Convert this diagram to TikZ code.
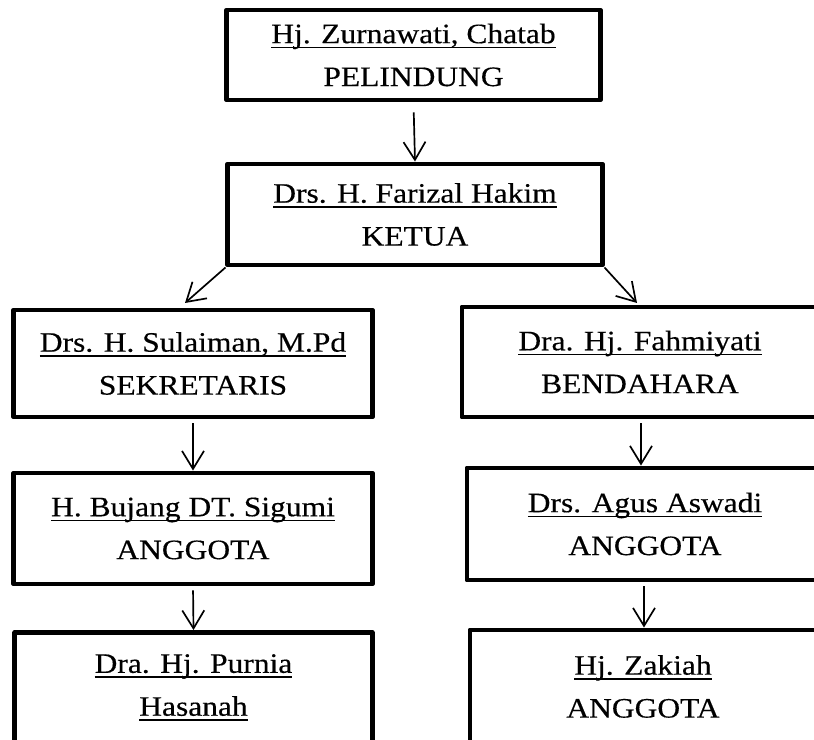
\documentclass[tikz,border=0pt]{standalone}
\usepackage{fontspec}
\setmainfont{Liberation Serif}[FakeStretch=1.12,FakeBold=0.4]
\usetikzlibrary{arrows.meta,calc}

\newcommand{\orgfont}{\fontsize{20}{30.5}\selectfont}
\newcommand{\nameline}[1]{\setbox0\hbox{#1}\leavevmode\rlap{\rule[-3.6pt]{\wd0}{1.1pt}}\box0}

\begin{document}
\begin{tikzpicture}[x=0.025cm, y=-0.025cm,
    orgbox/.style={draw, line width=3.5pt, line join=round, align=center, inner sep=0pt, font=\orgfont},
    link/.style={-{Straight Barb[length=0.45cm,width=0.55cm]}, line width=1.2pt}]
            \useasboundingbox (0,0) rectangle (814,740);
            \clip (0,0) rectangle (814,740);

            % Pelindung
            \node[orgbox, minimum width=9.325cm, minimum height=2.25cm] (pelindung) at (413.5,55) {
                \nameline{Hj. Zurnawati, Chatab} \\ PELINDUNG
            };

            % Ketua
            \node[orgbox, minimum width=9.35cm, minimum height=2.525cm] (ketua) at (415,214.5) {
                \nameline{Drs. H. Farizal Hakim} \\ KETUA
            };

            % Sekretaris and Bendahara
            \node[orgbox, minimum width=8.95cm, minimum height=2.675cm] (sekretaris) at (193,363.5) {
                \nameline{Drs. H. Sulaiman, M.Pd} \\ SEKRETARIS
            };
            \node[orgbox, minimum width=8.9cm, minimum height=2.75cm] (bendahara) at (640,362) {
                \nameline{Dra. Hj. Fahmiyati} \\ BENDAHARA
            };

            % Anggota
            \node[orgbox, minimum width=8.95cm, minimum height=2.775cm] (bujang) at (193,528.5) {
                \nameline{H. Bujang DT. Sigumi} \\ ANGGOTA
            };
            \node[orgbox, minimum width=8.9cm, minimum height=2.8cm] (agus) at (645,524) {
                \nameline{Drs. Agus Aswadi} \\ ANGGOTA
            };
            \node[orgbox, minimum width=8.925cm, minimum height=2.75cm] (purnia) at (193.5,687.5) {
                \nameline{Dra. Hj. Purnia} \\ \nameline{Hasanah}
            };
            \node[orgbox, minimum width=8.65cm, minimum height=2.825cm] (zakiah) at (643,686.5) {
                \nameline{Hj. Zakiah} \\ ANGGOTA
            };

            % Arrow ends
            \coordinate (sekTip) at (185,303);
            \coordinate (benTip) at (637,303);

            % Arrows
            \draw[link, shorten <=0.25cm] (pelindung.south) -- (ketua.north);
            \draw[link] (ketua.south west) -- (sekTip);
            \draw[link] (ketua.south east) -- (benTip);
            \draw[link, shorten <=0.1cm] (sekretaris.south) -- (bujang.north);
            \draw[link, shorten <=0.1cm] (bujang.south) -- (purnia.north);
            \draw[link, shorten <=0.1cm] ($(bendahara.south)+(1,0)$) -- ($(bendahara.south |- agus.north)+(1,0)$);
            \draw[link, shorten <=0.1cm] ($(agus.south)+(-1,0)$) -- ($(agus.south |- zakiah.north)+(-1,0)$);
        \end{tikzpicture}
\end{document}
